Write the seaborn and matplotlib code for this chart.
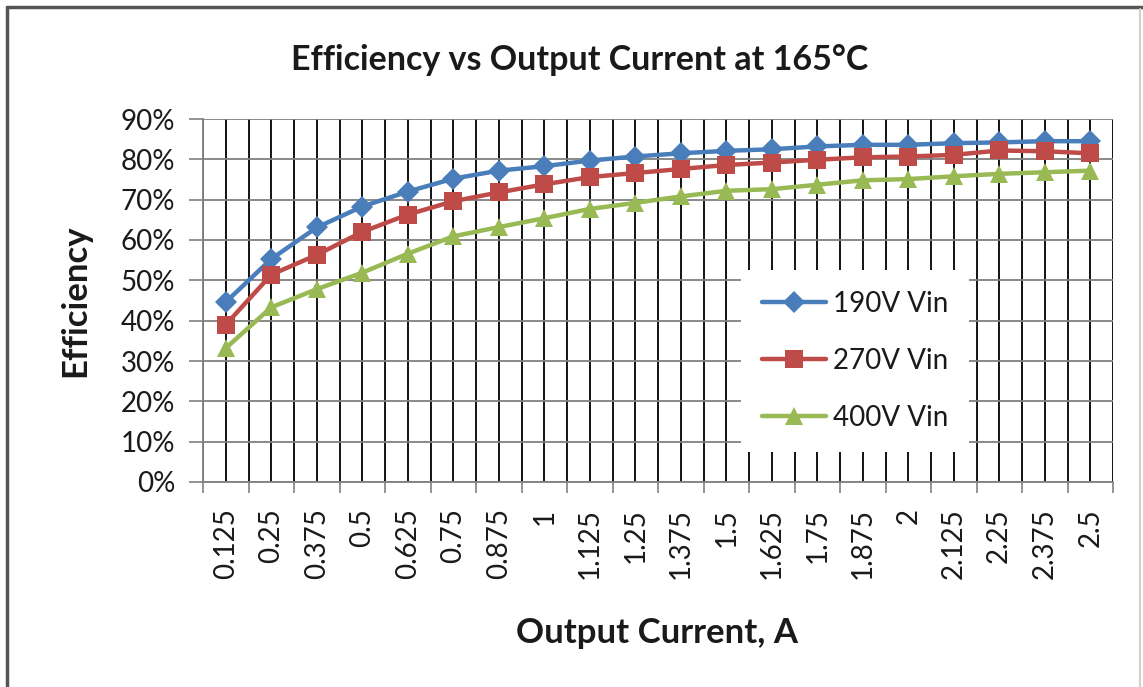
import numpy as np
import pandas as pd
import matplotlib
matplotlib.use("Agg")
import matplotlib.pyplot as plt
import seaborn as sns
from matplotlib.ticker import FixedLocator, FuncFormatter
from matplotlib.lines import Line2D

categories = ['0.125', '0.25', '0.375', '0.5', '0.625', '0.75', '0.875', '1',
              '1.125', '1.25', '1.375', '1.5', '1.625', '1.75', '1.875', '2',
              '2.125', '2.25', '2.375', '2.5']
eff_190 = [44.6, 55.3, 63.1, 68.3, 72.0, 75.2, 77.2, 78.3, 79.7, 80.7,
           81.5, 82.1, 82.5, 83.2, 83.6, 83.6, 84.0, 84.2, 84.5, 84.5]
eff_270 = [39.0, 51.4, 56.3, 62.0, 66.3, 69.6, 71.8, 73.8, 75.6, 76.6,
           77.6, 78.6, 79.2, 79.9, 80.5, 80.7, 81.1, 82.2, 82.0, 81.5]
eff_400 = [33.2, 43.3, 47.8, 51.9, 56.6, 60.9, 63.2, 65.4, 67.7, 69.2,
           70.8, 72.2, 72.6, 73.7, 74.8, 75.1, 75.8, 76.4, 76.8, 77.2]
series_labels = ['190V Vin', '270V Vin', '400V Vin']
y_ticks = [0, 10, 20, 30, 40, 50, 60, 70, 80, 90]

sns.set_theme(style="white")
plt.rcParams['font.family'] = ['Lato', 'DejaVu Sans']

pos = np.arange(len(categories))
df = pd.concat([
    pd.DataFrame({'pos': pos, 'cat': categories, 'eff': vals, 'series': lab})
    for vals, lab in zip([eff_190, eff_270, eff_400], series_labels)
], ignore_index=True)

W, H = 1143, 687
fig = plt.figure(figsize=(W / 100, H / 100), dpi=100)
fig.patch.set_facecolor('white')
ax = fig.add_axes([203 / W, 1 - 482 / H, 910 / W, 363 / H])

colors = ['#4A7EBB', '#BE4B48', '#98B954']
markers = ['D', 's', '^']
msizes = [11, 12.5, 13.5]
for lab, c, m, ms in zip(series_labels, colors, markers, msizes):
    sns.lineplot(data=df[df['series'] == lab], x='pos', y='eff', color=c,
                 marker=m, markersize=ms, markeredgewidth=0, linewidth=3.2,
                 label=lab, ax=ax, zorder=3)

ax.set_xlim(-0.5, len(categories) - 0.5)
ax.set_ylim(0, 90)
ax.set_xticks(pos)
ax.set_xticklabels(categories, rotation=90, fontsize=20, color='#1a1a1a')
ax.xaxis.set_minor_locator(FixedLocator(np.arange(len(categories) + 1) - 0.5))
ax.tick_params(axis='x', which='major', length=0, pad=19)
ax.tick_params(axis='x', which='minor', length=8, width=1.2, color='#808080',
               direction='out', bottom=True)
ax.yaxis.set_major_locator(FixedLocator(y_ticks))
ax.yaxis.set_major_formatter(FuncFormatter(lambda v, p: f"{v:.0f}%"))
ax.tick_params(axis='y', which='major', length=10, width=1.2, color='#808080',
               direction='out', left=True, labelsize=20, labelcolor='#1a1a1a', pad=10)

ax.grid(True, axis='x', which='both', color='black', linewidth=1.3)
ax.grid(True, axis='y', which='major', color='#808080', linewidth=1.3)
ax.set_axisbelow(True)
for s in ['top', 'right']:
    ax.spines[s].set_visible(False)
for s in ['left', 'bottom']:
    ax.spines[s].set_color('#808080')
    ax.spines[s].set_linewidth(1.3)

ax.set_xlabel('')
ax.set_ylabel('')

leg = ax.legend(loc='upper left', bbox_to_anchor=(0.576, 0.622), frameon=True,
                facecolor='white', edgecolor='none', framealpha=1, fancybox=False,
                fontsize=20, handlelength=2.3, handletextpad=0.25,
                labelspacing=1.12, borderpad=0.75)
for t in leg.get_texts():
    t.set_color('#1a1a1a')

fig.text(580 / W, 1 - 60 / H, 'Efficiency vs Output Current at 165°C',
         ha='center', va='center', fontsize=24.5, fontweight='bold', color='#1a1a1a')
fig.text(75 / W, 1 - 301 / H, 'Efficiency', rotation=90, ha='center', va='center',
         fontsize=25, fontweight='bold', color='#1a1a1a')
fig.text(657 / W, 1 - 633 / H, 'Output Current, A', ha='center', va='center',
         fontsize=25, fontweight='bold', color='#1a1a1a')

# outer chart frame
fig.add_artist(Line2D([7 / W, 7 / W], [0, 1 - 7 / H], transform=fig.transFigure,
                      color='#555555', linewidth=2.5))
fig.add_artist(Line2D([7 / W, 1], [1 - 7 / H, 1 - 7 / H], transform=fig.transFigure,
                      color='#555555', linewidth=2.5))
fig.add_artist(Line2D([1140 / W, 1140 / W], [0, 1 - 9 / H], transform=fig.transFigure,
                      color='#d0d0d0', linewidth=1.5))

fig.savefig('out.png', dpi=100, facecolor='white')
